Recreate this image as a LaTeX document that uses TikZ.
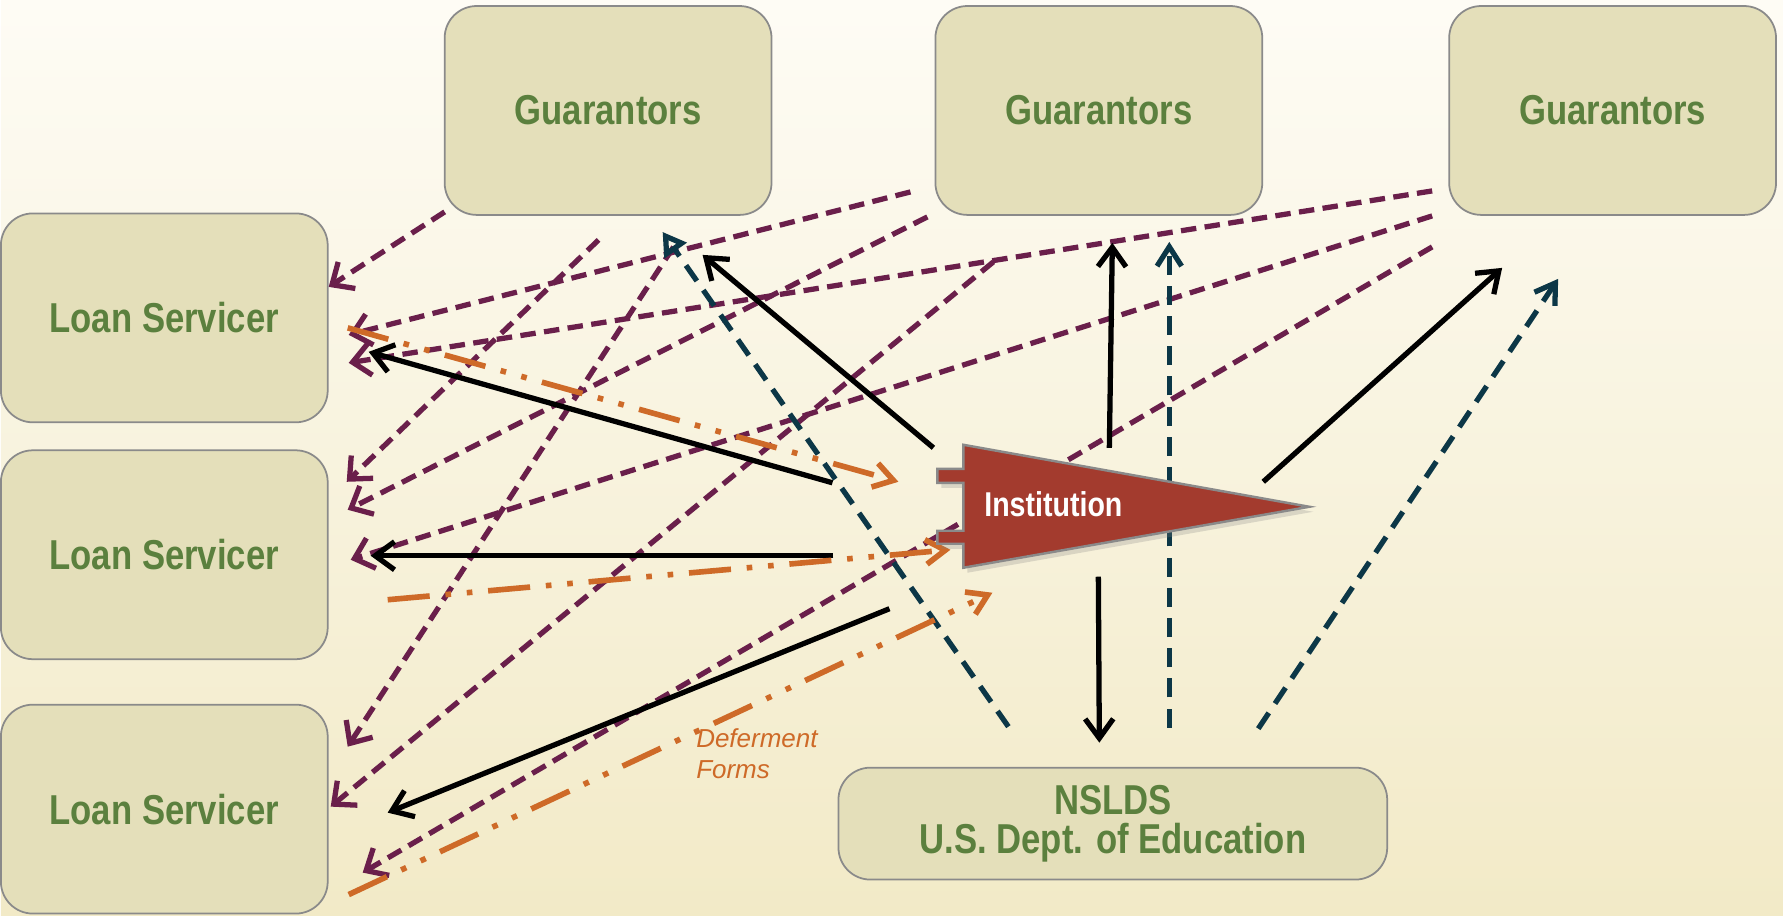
\documentclass[tikz,border=0pt]{standalone}
\usepackage{fontspec}
\setmainfont{Liberation Sans}
\newfontfamily\narrowsans[FakeStretch=0.83]{Liberation Sans}
\usetikzlibrary{arrows.meta,shadows}
\definecolor{bgtop}{RGB}{254,252,245}
\definecolor{bgmid}{RGB}{245,239,212}
\definecolor{bgbot}{RGB}{242,234,199}
\definecolor{boxfill}{RGB}{228,223,186}
\definecolor{boxline}{RGB}{138,138,138}
\definecolor{labelgreen}{RGB}{91,128,62}
\definecolor{pennantred}{RGB}{163,59,46}
\definecolor{feedpurple}{RGB}{106,31,75}
\definecolor{nsldsblue}{RGB}{12,55,71}
\definecolor{formorange}{RGB}{206,106,40}

\begin{document}
\begin{tikzpicture}[x=0.1mm, y=-0.1mm,
    party/.style={draw=boxline, line width=0.5pt, fill=boxfill, rounded corners=3.2mm,
      text=labelgreen, font=\fontsize{11.9}{11.1}\selectfont\narrowsans\bfseries,
      align=center, inner sep=0pt, minimum width=3.27cm, minimum height=2.09cm},
    feed/.style={draw=feedpurple, line width=1.5pt, dash pattern=on 4.4pt off 2.4pt,
      -{Straight Barb[length=5pt,width=9pt]}},
    report/.style={draw=nsldsblue, line width=1.5pt, dash pattern=on 5.4pt off 3.2pt,
      -{Straight Barb[length=5.5pt,width=7pt]}},
    direct/.style={draw=black, line width=1.5pt, -{Straight Barb[length=5.5pt,width=8pt]}},
    forms/.style={draw=formorange, line width=1.6pt,
      dash pattern=on 12pt off 4.5pt on 1.6pt off 4.5pt on 1.6pt off 4.5pt,
      -{Straight Barb[length=5.5pt,width=7pt]}}]

  % background
  \shade[top color=bgtop, middle color=bgmid, bottom color=bgbot] (0,0) rectangle (1783,916);

  % parties
  \node[party] (g1) at (607.5,110.5) {Guarantors};
  \node[party] (g2) at (1098.5,110.5) {Guarantors};
  \node[party] (g3) at (1612.5,110.5) {Guarantors};
  \node[party] (l1) at (163.5,318) {Loan Servicer};
  \node[party] (l2) at (163.5,555) {Loan Servicer};
  \node[party] (l3) at (163.5,809.5) {Loan Servicer};
  \node[party, minimum width=5.49cm, minimum height=1.12cm] (nslds) at (1112.5,824)
    {NSLDS\\U.S. Dept. of Education};

  % guarantor ends
  \coordinate (g1a) at (444,212); \coordinate (g1b) at (598,240); \coordinate (g1c) at (673,247);
  \coordinate (g2a) at (910,192); \coordinate (g2b) at (927,217); \coordinate (g2c) at (993,262);
  \coordinate (g3a) at (1432,191); \coordinate (g3b) at (1432,216); \coordinate (g3c) at (1432,247);
  % servicer ends
  \coordinate (l1a) at (328,287); \coordinate (l1b) at (348,335); \coordinate (l1c) at (348,363);
  \coordinate (l2a) at (346,482); \coordinate (l2b) at (347,510); \coordinate (l2c) at (350,560);
  \coordinate (l3a) at (347,747); \coordinate (l3b) at (330,807); \coordinate (l3c) at (362,873);

  % guarantors to servicers
  \foreach \g/\e in {1/a,2/b,3/c}
    \foreach \l/\s in {1/a,2/b,3/c}
      \draw[feed] (g\g\s) -- (l\l\e);

  % institution ends
  \coordinate (i1) at (933,448); \coordinate (i2) at (1109,448); \coordinate (i3) at (1263,482);
  \coordinate (i4) at (1098,577); \coordinate (i5) at (832,483); \coordinate (i6) at (833,556);
  \coordinate (i7) at (889,609);
  \coordinate (t1) at (702,255); \coordinate (t2) at (1112,243); \coordinate (t3) at (1502,268);
  \coordinate (t4) at (1099,743); \coordinate (t5) at (368,352); \coordinate (t6) at (370,556);
  \coordinate (t7) at (387,813);
  \foreach \k in {1,...,7}
    \draw[direct] (i\k) -- (t\k);

  % NSLDS to guarantors
  \coordinate (n1) at (1008,727); \coordinate (n2) at (1169,728); \coordinate (n3) at (1258,729);
  \coordinate (r1) at (662,232); \coordinate (r2) at (1169,242); \coordinate (r3) at (1558,279);
  \draw[report, -{Triangle[open,length=6.5pt,width=7.5pt]}] (n1) -- (r1);
  \draw[report] (n2) -- (r2);
  \draw[report] (n3) -- (r3);

  % deferment forms
  \coordinate (f1) at (347,328); \coordinate (f2) at (387,600); \coordinate (f3) at (348,895);
  \coordinate (d1) at (898,482); \coordinate (d2) at (950,550); \coordinate (d3) at (992,593);
  \foreach \k in {1,2,3}
    \draw[forms] (f\k) -- (d\k);

  % institution pennant
  \filldraw[fill=pennantred, draw=boxline, line width=0.7pt,
      drop shadow={opacity=0.25, shadow xshift=0.4mm, shadow yshift=-0.5mm}]
    (963,445) -- (1309,507) -- (963,568) -- (963,544) -- (937,544) -- (937,531)
    -- (963,531) -- (963,483) -- (937,483) -- (937,469) -- (963,469) -- cycle;
  \node[text=white, font=\fontsize{9.8}{11}\selectfont\narrowsans\bfseries] (inst) at (1053,504) {Institution};

  \node[anchor=north west, inner sep=0pt, align=left, text=formorange,
      font=\fontsize{7.4}{8.8}\selectfont\itshape] (deflabel) at (695,728) {Deferment\\Forms};
\end{tikzpicture}
\end{document}
